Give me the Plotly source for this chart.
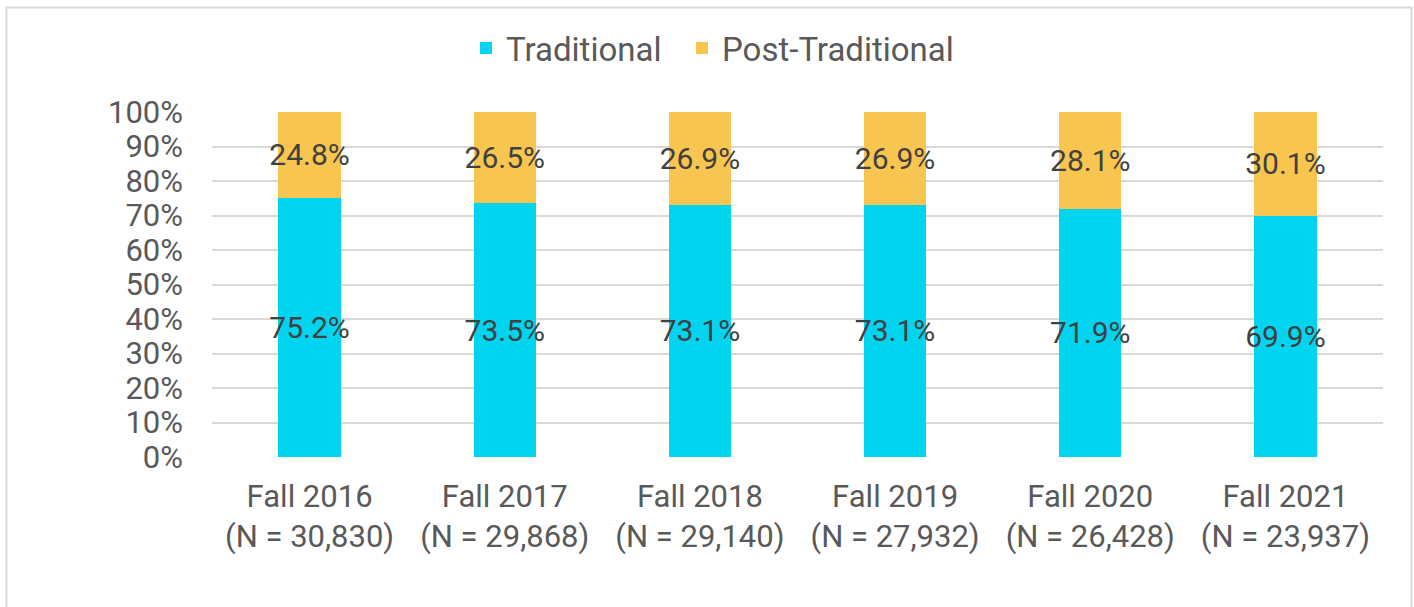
import plotly.graph_objects as go

categories = ["Fall 2016<br>(N = 30,830)", "Fall 2017<br>(N = 29,868)", "Fall 2018<br>(N = 29,140)",
              "Fall 2019<br>(N = 27,932)", "Fall 2020<br>(N = 26,428)", "Fall 2021<br>(N = 23,937)"]
traditional = [75.2, 73.5, 73.1, 73.1, 71.9, 69.9]
post_traditional = [24.8, 26.5, 26.9, 26.9, 28.1, 30.1]
y_ticks = [0, 10, 20, 30, 40, 50, 60, 70, 80, 90, 100]

W, H = 1414, 607
L, R, T, B = 212, 31, 112, 150
pw, ph = W - L - R, H - T - B

def px_x(x):
    return (x - L) / pw

def px_y(y):
    return (H - B - y) / ph

FS = 31
LBL = 30

fig = go.Figure()
fig.add_trace(go.Bar(
    x=categories, y=traditional, name="Traditional", legend="legend", showlegend=True,
    marker=dict(color="#00D4EF", line=dict(width=0)),
    text=[f"{v:.1f}%" for v in traditional], textposition="inside", textangle=0,
    constraintext="none", insidetextanchor="middle",
    textfont=dict(color="#404040", size=LBL),
))
fig.add_trace(go.Bar(
    x=categories, y=post_traditional, name="Post-Traditional", legend="legend2", showlegend=True,
    marker=dict(color="#F8C551", line=dict(width=0)),
    text=[f"{v:.1f}%" for v in post_traditional], textposition="inside", textangle=0,
    constraintext="none", insidetextanchor="middle",
    textfont=dict(color="#404040", size=LBL),
))

legend_style = dict(orientation="h", xanchor="left", y=px_y(48), yanchor="middle",
                    font=dict(size=33, color="#595959"), bgcolor="rgba(0,0,0,0)")

fig.update_layout(
    width=W, height=H, barmode="stack", bargap=0.68, showlegend=True,
    margin=dict(l=L, r=R, t=T, b=B, autoexpand=False),
    paper_bgcolor="white", plot_bgcolor="white",
    font=dict(family="Roboto", color="#595959", size=FS),
    uniformtext=dict(minsize=LBL, mode="show"),
    legend=dict(x=px_x(466), visible=True, **legend_style),
    legend2=dict(x=px_x(682), visible=True, **legend_style),
    xaxis=dict(showgrid=False, showline=False, ticks="", tickfont=dict(size=FS, color="#595959"),
               ticklabelstandoff=18),
    yaxis=dict(range=[0, 100], tickvals=y_ticks, ticktext=[f"{v}%" for v in y_ticks],
               showgrid=True, gridcolor="#D9D9D9", gridwidth=2, zeroline=False,
               ticks="", tickfont=dict(size=FS, color="#595959"), ticklabelstandoff=28),
    shapes=[dict(type="rect", xref="paper", yref="paper",
                 x0=px_x(6.5), x1=px_x(1411.5), y0=px_y(620), y1=px_y(7.5),
                 line=dict(color="#D9D9D9", width=2), layer="below")],
)

fig.write_html("out.html")
